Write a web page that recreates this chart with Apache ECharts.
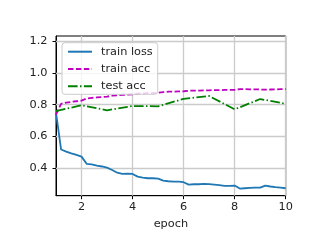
<!DOCTYPE html>
<html>
<head>
<meta charset="utf-8">
<script src="https://cdn.jsdelivr.net/npm/echarts@6/dist/echarts.min.js"></script>
<style>
html,body{margin:0;padding:0;background:#fff;}
#chart{width:326px;height:251px;}
</style>
</head>
<body>
<div id="chart"></div>
<script>
// x positions (epochs) of the per-batch training records
const epochsFine = [1.0,1.2,1.4,1.6,1.8,2.0,2.2,2.4,2.6,2.8,3.0,3.2,3.4,3.6,3.8,4.0,4.2,4.4,4.6,4.8,5.0,
  5.2,5.4,5.6,5.8,6.0,6.2,6.4,6.6,6.8,7.0,7.2,7.4,7.6,7.8,8.0,8.2,8.4,8.6,8.8,9.0,9.2,9.4,9.6,9.8,10.0];
const trainLoss = [0.750,0.518,0.505,0.494,0.484,0.473,0.428,0.424,0.416,0.411,0.404,0.389,0.372,0.364,0.366,0.364,
  0.347,0.341,0.337,0.337,0.335,0.322,0.318,0.316,0.316,0.312,0.297,0.299,0.299,0.301,0.300,0.297,0.293,0.289,0.289,0.291,
  0.272,0.274,0.276,0.278,0.278,0.290,0.285,0.281,0.278,0.274];
const trainAcc = [0.738,0.806,0.813,0.818,0.822,0.826,0.839,0.843,0.846,0.848,0.851,0.857,0.860,0.862,0.864,0.866,
  0.870,0.872,0.873,0.874,0.876,0.880,0.882,0.883,0.884,0.885,0.888,0.889,0.889,0.890,0.891,0.892,0.892,0.893,0.893,0.893,
  0.898,0.898,0.897,0.897,0.896,0.895,0.896,0.897,0.898,0.899];
const epochsTest = [1,2,3,4,5,6,7,8,9,10];
const testAcc = [0.760,0.797,0.765,0.792,0.790,0.837,0.855,0.771,0.836,0.806];
const xTicks = [2,4,6,8,10];
const yTicks = [0.4,0.6,0.8,1.0,1.2];

const zip = (xs, ys) => xs.map((x, i) => [x, ys[i]]);
const FONT = 'DejaVu Sans';
const TXT = '#222';

const chart = echarts.init(document.getElementById('chart'), null, {renderer: 'canvas'});
chart.setOption({
  animation: false,
  backgroundColor: '#fff',
  textStyle: {fontFamily: FONT},
  grid: {left: 56, right: 40.3, top: 36, bottom: 55.3, show: true, borderColor: '#000', borderWidth: 1, backgroundColor: 'transparent'},
  xAxis: {
    type: 'value', min: 1, max: 10,
    name: 'epoch', nameLocation: 'middle', nameGap: 23,
    nameTextStyle: {fontFamily: FONT, fontSize: 11.3, color: TXT},
    axisLine: {show: true, lineStyle: {color: '#000', width: 1}},
    axisTick: {show: true, inside: false, length: 3.5, customValues: xTicks, lineStyle: {color: '#000'}},
    axisLabel: {customValues: xTicks, margin: 6, fontFamily: FONT, fontSize: 11.3, color: TXT, formatter: v => String(v)},
    splitLine: {show: false}
  },
  yAxis: {
    type: 'value', min: 0.227, max: 1.233,
    axisLine: {show: true, lineStyle: {color: '#000', width: 1}},
    axisTick: {show: true, inside: false, length: 3.5, customValues: yTicks, lineStyle: {color: '#000'}},
    axisLabel: {customValues: yTicks, margin: 8.5, fontFamily: FONT, fontSize: 11.3, color: TXT, formatter: v => v.toFixed(1)},
    splitLine: {show: false}
  },
  legend: {
    orient: 'vertical', left: 62, top: 42.7, z: 20,
    backgroundColor: 'rgba(255,255,255,0.8)', borderColor: '#cccccc', borderWidth: 1, borderRadius: 3,
    padding: [3, 5, 2, 5], itemWidth: 24, itemHeight: 12, itemGap: 5.3,
    itemStyle: {opacity: 0},
    textStyle: {fontFamily: FONT, fontSize: 11.3, color: TXT, lineHeight: 12, padding: [0, 0, 0, 4]},
    data: ['train loss', 'train acc', 'test acc']
  },
  series: [
    {
      type: 'line', name: '_grid', data: [], z: 1, silent: true,
      markLine: {
        silent: true, symbol: ['none', 'none'], label: {show: false}, animation: false, z: 1,
        lineStyle: {color: '#cbcbcb', width: 1.3, type: 'solid'},
        emphasis: {disabled: true},
        data: xTicks.map(v => ({xAxis: v})).concat(yTicks.map(v => ({yAxis: v})))
      }
    },
    {
      type: 'line', name: 'train loss', data: zip(epochsFine, trainLoss), symbol: 'none', z: 3,
      lineStyle: {color: '#1f77b4', width: 1.8}, itemStyle: {color: '#1f77b4'}
    },
    {
      type: 'line', name: 'train acc', data: zip(epochsFine, trainAcc), symbol: 'none', z: 3,
      lineStyle: {color: '#bf00bf', width: 1.8, type: [5.5, 2.4]}, itemStyle: {color: '#bf00bf'}
    },
    {
      type: 'line', name: 'test acc', data: zip(epochsTest, testAcc), symbol: 'none', z: 3,
      lineStyle: {color: '#008000', width: 1.8, type: [9.6, 2.4, 1.5, 2.4]}, itemStyle: {color: '#008000'}
    }
  ]
});
</script>
</body>
</html>
